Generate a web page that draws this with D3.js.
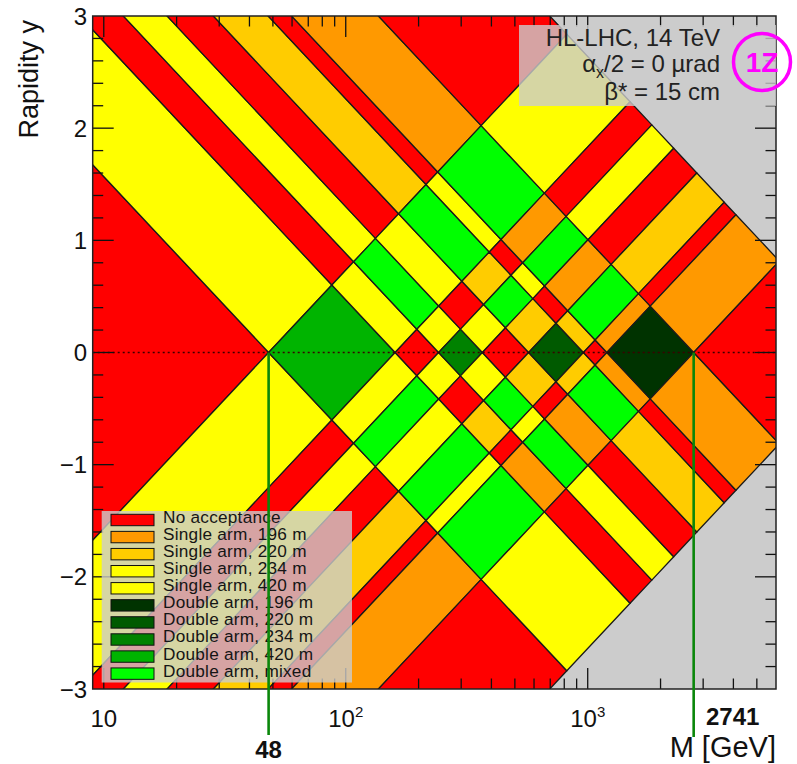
<!DOCTYPE html>
<html>
<head>
<meta charset="utf-8">
<script src="https://cdn.jsdelivr.net/npm/d3@7"></script>
<style>
  html, body { margin: 0; padding: 0; background: #ffffff; }
  svg text { font-family: "Liberation Sans", Arial, Helvetica, sans-serif; }
</style>
</head>
<body>
<svg id="chart" width="797" height="764"></svg>
<script>
// Centre-of-mass energy (GeV). Station acceptances are quoted as the central
// mass (y = 0) at which a proton's xi enters / leaves the station: M = xi * sqrtS.
const sqrtS = 14000;
const stations = ["196 m", "220 m", "234 m", "420 m"];
const accMassLow  = [1200, 570, 242, 48];
const accMassHigh = [2741, 960, 367, 160];

const singleArmColors = ["#ff9900", "#ffcc00", "#ffff00", "#ffff00"];
const doubleArmColors = ["#003300", "#005a00", "#008200", "#00b400"];
const noAcceptanceColor = "#ff0000";
const mixedColor = "#00ff00";
const forbiddenColor = "#cccccc";

const legendLabels = [
  "No acceptance",
  "Single arm, 196 m", "Single arm, 220 m", "Single arm, 234 m", "Single arm, 420 m",
  "Double arm, 196 m", "Double arm, 220 m", "Double arm, 234 m", "Double arm, 420 m",
  "Double arm, mixed"
];
const legendColors = [noAcceptanceColor, ...singleArmColors, ...doubleArmColors, mixedColor];

const massRange = [9, 6000];
const rapidityRange = [-3, 3];
const xMajorTicks = [10, 100, 1000];
const xTickExponents = ["", "2", "3"];
const yMajorTicks = [-3, -2, -1, 0, 1, 2, 3];
const markedMasses = [48, 2741];
const infoLines = ["HL-LHC, 14 TeV", "alpha", "\u03B2* = 15 cm"];

// ---------------------------------------------------------------------------
const svg = d3.select("#chart");
const plot = { left: 92.7, right: 776, top: 16, bottom: 689 };

const x = d3.scaleLog().domain(massRange).range([plot.left, plot.right]);
const y = d3.scaleLinear().domain(rapidityRange).range([plot.bottom, plot.top]);

svg.append("defs").append("clipPath").attr("id", "plotClip")
  .append("rect")
  .attr("x", plot.left).attr("y", plot.top)
  .attr("width", plot.right - plot.left).attr("height", plot.bottom - plot.top);

// Kinematically forbidden (xi > 1) background
svg.append("rect")
  .attr("x", plot.left).attr("y", plot.top)
  .attr("width", plot.right - plot.left).attr("height", plot.bottom - plot.top)
  .attr("fill", forbiddenColor);

// 1D sequence of xi-intervals (expressed as y = 0 mass), each tagged with a station or -1
const order = d3.range(stations.length).sort((a, b) => accMassLow[a] - accMassLow[b]);
const intervals = [];
let prev = 1e-3;
order.forEach(s => {
  intervals.push({ lo: prev, hi: accMassLow[s], st: -1 });
  intervals.push({ lo: accMassLow[s], hi: accMassHigh[s], st: s });
  prev = accMassHigh[s];
});
intervals.push({ lo: prev, hi: sqrtS, st: -1 });

function cellColor(s1, s2) {
  if (s1 < 0 && s2 < 0) return noAcceptanceColor;
  if (s1 < 0) return singleArmColors[s2];
  if (s2 < 0) return singleArmColors[s1];
  if (s1 === s2) return doubleArmColors[s1];
  return mixedColor;
}

// (M1, M2) = (M e^{+y}, M e^{-y}) -> (M, y)
function toPixel(m1, m2) {
  const M = Math.sqrt(m1 * m2);
  const rap = 0.5 * Math.log(m1 / m2);
  return [x(M), y(rap)];
}

const cells = [];
intervals.forEach(a => intervals.forEach(b => {
  cells.push({
    pts: [toPixel(a.lo, b.lo), toPixel(a.hi, b.lo), toPixel(a.hi, b.hi), toPixel(a.lo, b.hi)],
    color: cellColor(a.st, b.st)
  });
}));

const cellLayer = svg.append("g").attr("clip-path", "url(#plotClip)");
cellLayer.selectAll("polygon").data(cells).join("polygon")
  .attr("points", d => d.pts.map(p => p.join(",")).join(" "))
  .attr("fill", d => d.color)
  .attr("stroke", "#1a1a1a")
  .attr("stroke-width", 1.3)
  .attr("stroke-linejoin", "round");

// Dotted y = 0 reference line
svg.append("line")
  .attr("x1", plot.left).attr("x2", plot.right)
  .attr("y1", y(0)).attr("y2", y(0))
  .attr("stroke", "#3a0000").attr("stroke-width", 1.4)
  .attr("stroke-dasharray", "2,3");

// ---------------------------------------------------------------------------
// Frame and ticks (ticks on all four sides, pointing inwards)
const axisG = svg.append("g");
const majorLen = 21, minorLen = 10.5;
const xAll = [];
for (let dec = 1; dec <= 1000; dec *= 10) {
  for (let k = 1; k <= 9; k++) {
    const m = k * dec;
    if (m > massRange[0] && m < massRange[1]) xAll.push({ v: m, major: k === 1 });
  }
}
xAll.forEach(t => {
  const len = t.major ? majorLen : minorLen;
  axisG.append("line").attr("x1", x(t.v)).attr("x2", x(t.v))
    .attr("y1", plot.bottom).attr("y2", plot.bottom - len)
    .attr("stroke", "#111").attr("stroke-width", 1.3);
  axisG.append("line").attr("x1", x(t.v)).attr("x2", x(t.v))
    .attr("y1", plot.top).attr("y2", plot.top + len)
    .attr("stroke", "#111").attr("stroke-width", 1.3);
});
const yAll = d3.range(-15, 16).map(i => ({ v: i / 5, major: i % 5 === 0 }));
yAll.forEach(t => {
  if (t.v <= rapidityRange[0] || t.v >= rapidityRange[1]) return;
  const len = t.major ? majorLen : minorLen;
  axisG.append("line").attr("x1", plot.left).attr("x2", plot.left + len)
    .attr("y1", y(t.v)).attr("y2", y(t.v))
    .attr("stroke", "#111").attr("stroke-width", 1.3);
  axisG.append("line").attr("x1", plot.right).attr("x2", plot.right - len)
    .attr("y1", y(t.v)).attr("y2", y(t.v))
    .attr("stroke", "#111").attr("stroke-width", 1.3);
});
axisG.append("rect")
  .attr("x", plot.left).attr("y", plot.top)
  .attr("width", plot.right - plot.left).attr("height", plot.bottom - plot.top)
  .attr("fill", "none").attr("stroke", "#222").attr("stroke-width", 1.5);

// Tick labels
xMajorTicks.forEach((v, i) => {
  const t = svg.append("text")
    .attr("x", x(v)).attr("y", 727)
    .attr("text-anchor", "middle")
    .attr("font-size", 24).attr("fill", "#111");
  t.append("tspan").text("10");
  if (xTickExponents[i]) {
    t.append("tspan").attr("dy", -10).attr("font-size", 15).text(xTickExponents[i]);
  }
});
yMajorTicks.forEach(v => {
  svg.append("text")
    .attr("x", 87).attr("y", y(v))
    .attr("text-anchor", "end").attr("dominant-baseline", "central")
    .attr("font-size", 24).attr("fill", "#111")
    .text(v < 0 ? "\u2212" + Math.abs(v) : String(v));
});

// Axis titles
svg.append("text")
  .attr("transform", "translate(38,20) rotate(-90)")
  .attr("text-anchor", "end")
  .attr("font-size", 27).attr("fill", "#111")
  .text("Rapidity y");
svg.append("text")
  .attr("x", plot.right).attr("y", 757)
  .attr("text-anchor", "end")
  .attr("font-size", 29).attr("fill", "#111")
  .text("M [GeV]");

// ---------------------------------------------------------------------------
// Legend
const leg = svg.append("g");
leg.append("rect")
  .attr("x", 101.7).attr("y", 511).attr("width", 250.3).attr("height", 171.5)
  .attr("fill", "#cccccc").attr("fill-opacity", 0.8);
legendLabels.forEach((lab, i) => {
  const cy = 520 + i * 17.07;
  leg.append("rect")
    .attr("x", 111).attr("y", cy - 5.7).attr("width", 43).attr("height", 11.4)
    .attr("fill", legendColors[i]).attr("stroke", "#111").attr("stroke-width", 1);
  leg.append("text")
    .attr("x", 163).attr("y", cy + 3)
    .attr("font-size", 17.2).attr("letter-spacing", 0.25).attr("fill", "#151515")
    .text(lab);
});

// Run-condition box
svg.append("rect")
  .attr("x", 519).attr("y", 25).attr("width", plot.right - 519).attr("height", 81)
  .attr("fill", "#cccccc").attr("fill-opacity", 0.8);
const infoX = 720;
svg.append("text").attr("x", infoX).attr("y", 45.5).attr("text-anchor", "end")
  .attr("font-size", 24).attr("fill", "#222").text(infoLines[0]);
const l2 = svg.append("text").attr("x", infoX).attr("y", 72).attr("text-anchor", "end")
  .attr("font-size", 24).attr("fill", "#222");
l2.append("tspan").text("\u03B1");
l2.append("tspan").attr("font-size", 16).attr("dy", 6).text("x");
l2.append("tspan").attr("dy", -6).text("/2 = 0 \u00B5rad");
svg.append("text").attr("x", infoX).attr("y", 99.5).attr("text-anchor", "end")
  .attr("font-size", 24).attr("fill", "#222").text(infoLines[2]);

// Configuration tag
svg.append("circle").attr("cx", 762).attr("cy", 62).attr("r", 28.5)
  .attr("fill", "none").attr("stroke", "#ff00ff").attr("stroke-width", 3.5);
svg.append("text").attr("x", 762).attr("y", 72).attr("text-anchor", "middle")
  .attr("font-size", 28).attr("font-weight", "bold").attr("fill", "#ff00ff").text("1Z");

// ---------------------------------------------------------------------------
// Acceptance edges at y = 0
const lineEnds = [735, 737];
markedMasses.forEach((m, i) => {
  svg.append("line")
    .attr("x1", x(m)).attr("x2", x(m))
    .attr("y1", y(0)).attr("y2", lineEnds[i])
    .attr("stroke", "#0a870a").attr("stroke-width", 2.6);
});
svg.append("text").attr("x", x(markedMasses[0])).attr("y", 758)
  .attr("text-anchor", "middle").attr("font-size", 24).attr("font-weight", "bold")
  .attr("fill", "#111").text(String(markedMasses[0]));
svg.append("text").attr("x", x(markedMasses[1]) + 39).attr("y", 725)
  .attr("text-anchor", "middle").attr("font-size", 24).attr("font-weight", "bold")
  .attr("fill", "#111").text(String(markedMasses[1]));
</script>
</body>
</html>
